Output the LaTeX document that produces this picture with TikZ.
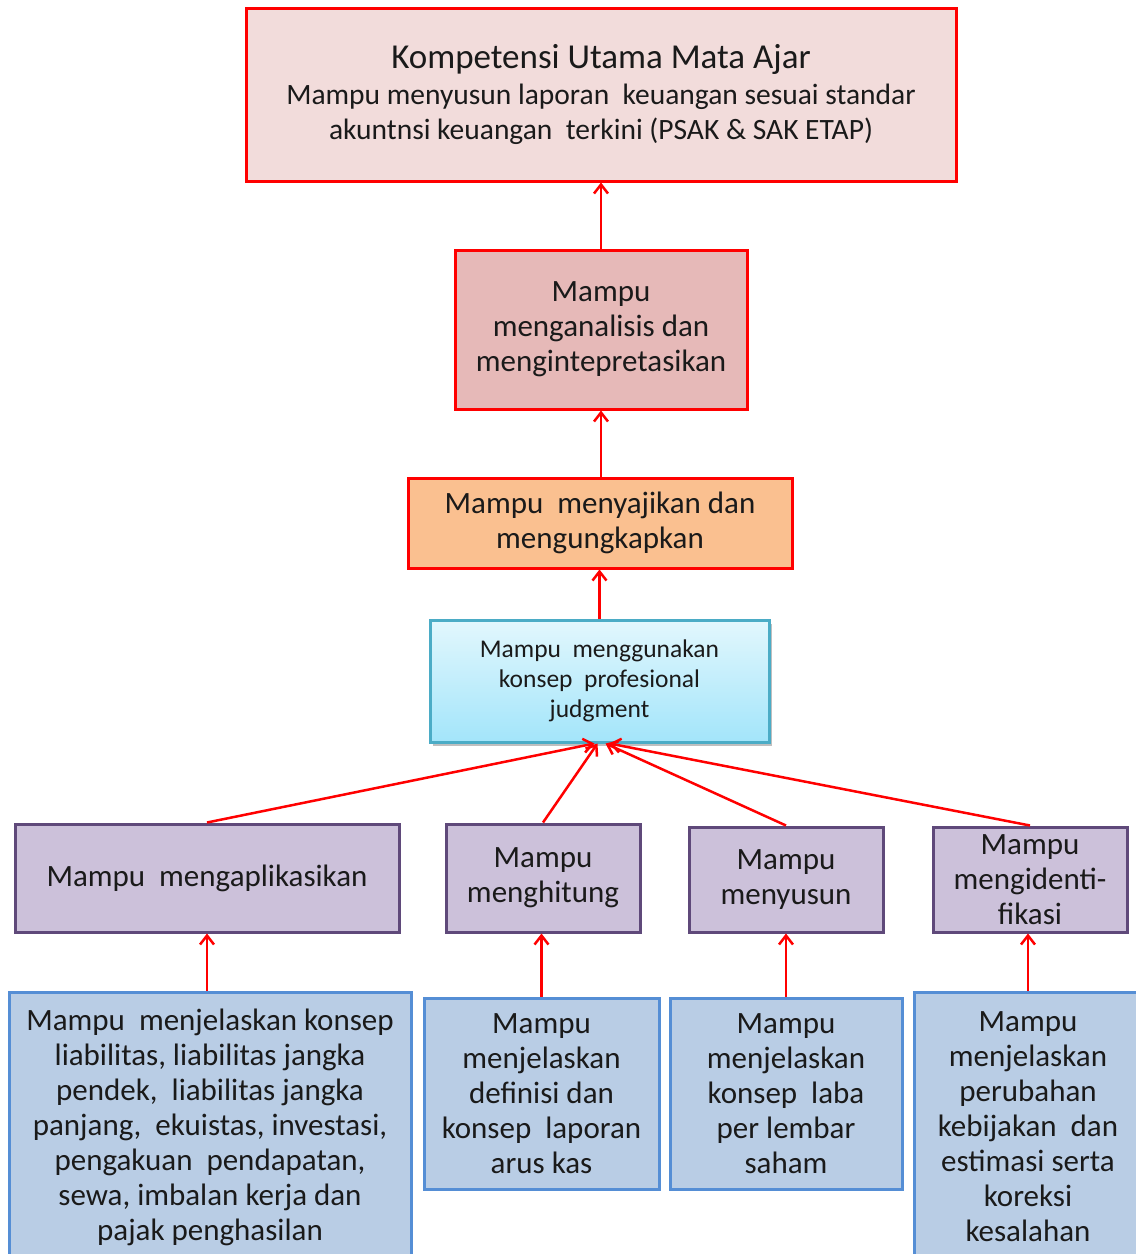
\documentclass[tikz,border=0pt]{standalone}
\usepackage{fontspec}
\setmainfont{Carlito}
\usetikzlibrary{arrows.meta,calc,shadows}
\definecolor{topfill}{HTML}{F2DCDB}
\definecolor{midfill}{HTML}{E6B9B8}
\definecolor{orfill}{HTML}{FAC090}
\definecolor{cytop}{HTML}{E2F7FD}
\definecolor{cybot}{HTML}{A3E5FA}
\definecolor{cyline}{HTML}{4BACC6}
\definecolor{pufill}{HTML}{CCC1DA}
\definecolor{puline}{HTML}{5F497A}
\definecolor{blfill}{HTML}{B9CDE5}
\definecolor{blline}{HTML}{558ED5}
\definecolor{txt}{HTML}{1A1A1A}
\tikzset{
  box/.style={line width=3pt, inner sep=0pt, align=center, text=txt,
    font=\fontsize{31}{35}\selectfont},
  redbox/.style={box, draw=red},
  cybox/.style={box, draw=cyline, top color=cytop, bottom color=cybot,
    font=\fontsize{25.5}{30}\selectfont,
    drop shadow={shadow xshift=3pt, shadow yshift=-4pt, opacity=0.25, fill=black}},
  pubox/.style={box, draw=puline, fill=pufill},
  blbox/.style={box, draw=blline, fill=blfill},
  arr/.style={draw=red, line width=2.5pt, -{Straight Barb[length=9pt,width=14pt]}},
}
\begin{document}
\begin{tikzpicture}[x=1pt,y=-1pt]
\useasboundingbox (0,0) rectangle (1136,1254);
\clip (0,0) rectangle (1136,1254);
\node[redbox, fill=topfill, minimum width=710pt, minimum height=173pt] (top) at (601,94.5)
  {\raisebox{-3pt}{\fontsize{35}{40}\selectfont Kompetensi Utama Mata Ajar}\\[4pt]
   {\fontsize{29.5}{35}\selectfont Mampu menyusun laporan\ \ keuangan sesuai standar}\\
   {\fontsize{29.5}{35}\selectfont akuntnsi keuangan\ \ terkini (PSAK \& SAK ETAP)}};
\node[redbox, fill=midfill, minimum width=292pt, minimum height=159pt] (ana) at (601,329.5)
  {Mampu\\menganalisis dan\\mengintepretasikan};
\node[redbox, fill=orfill, minimum width=384pt, minimum height=90pt] (saji) at (600,523)
  {Mampu\ \ menyajikan dan\\mengungkapkan};
\node[cybox, minimum width=339pt, minimum height=122pt] (judg) at (599.5,681)
  {Mampu\ \ menggunakan\\konsep\ \ profesional\\judgment};
\node[pubox, minimum width=384pt, minimum height=108pt] (apl) at (207,878)
  {Mampu\ \ mengaplikasikan};
\node[pubox, minimum width=194pt, minimum height=108pt] (hit) at (543,878)
  {Mampu\\menghitung};
\node[pubox, minimum width=194pt, minimum height=105pt] (sus) at (786,879.5)
  {Mampu\\menyusun};
\node[pubox, minimum width=194pt, minimum height=105pt] (ide) at (1030,879.5)
  {Mampu\\mengidenti-\\fikasi};
\node[blbox, minimum width=402pt, minimum height=270pt] (lia) at (210,1127)
  {Mampu\ \ menjelaskan konsep\\liabilitas, liabilitas jangka\\pendek,\ \ liabilitas jangka\\panjang,\ \ ekuistas, investasi,\\pengakuan\ \ pendapatan,\\sewa, imbalan kerja dan\\pajak penghasilan};
\node[blbox, minimum width=235pt, minimum height=191pt] (arus) at (541.5,1093.5)
  {Mampu\\menjelaskan\\definisi dan\\konsep\ \ laporan\\arus kas};
\node[blbox, minimum width=232pt, minimum height=191pt] (laba) at (786,1093.5)
  {Mampu\\menjelaskan\\konsep\ \ laba\\per lembar\\saham};
\node[blbox, minimum width=228pt, minimum height=270pt] (kes) at (1028,1127)
  {Mampu\\menjelaskan\\perubahan\\kebijakan\ \ dan\\estimasi serta\\koreksi\\kesalahan};
% connectors
\draw[arr] (ana.north) -- (top.south);
\draw[arr] (saji.north -| ana.north) -- (ana.south);
\draw[arr] (judg.north) -- (judg.north |- saji.south);
\draw[arr] (apl.north) -- ($(judg.south)+(-5,0)$);
\draw[arr] (hit.north) -- ($(judg.south)+(-2,0)$);
\draw[arr] (sus.north) -- ($(judg.south)+(6,0)$);
\draw[arr] (ide.north) -- ($(judg.south)+(10,0)$);
\draw[arr] (apl.south |- lia.north) -- (apl.south);
\draw[arr] (arus.north) -- (arus.north |- hit.south);
\draw[arr] (laba.north) -- (sus.south);
\draw[arr] (kes.north) -- (kes.north |- ide.south);
\end{tikzpicture}
\end{document}
